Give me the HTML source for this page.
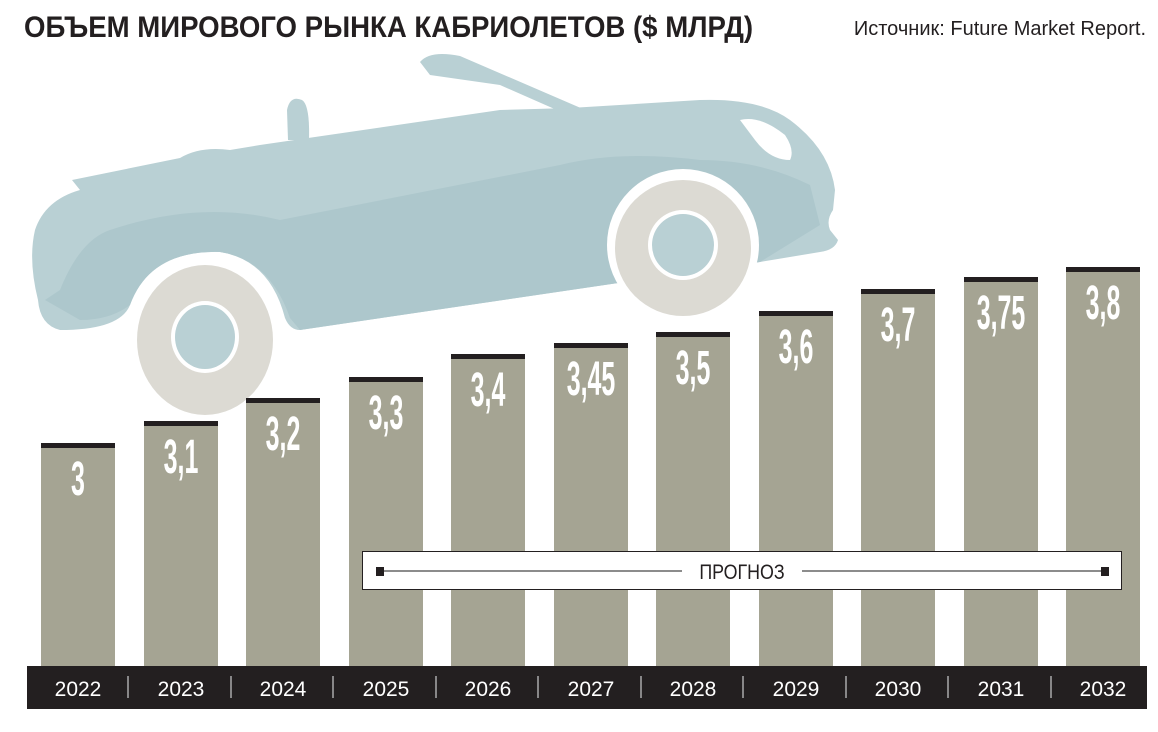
<!DOCTYPE html>
<html><head><meta charset="utf-8"><style>
html,body{margin:0;padding:0;background:#fff;}
body{width:1158px;height:727px;overflow:hidden;}
</style></head><body>
<svg width="1158" height="727" viewBox="0 0 1158 727" xmlns="http://www.w3.org/2000/svg" font-family="Liberation Sans, sans-serif">
<text transform="translate(24,37) scale(0.92,1)" font-size="30" font-weight="bold" fill="#231f20">ОБЪЕМ МИРОВОГО РЫНКА КАБРИОЛЕТОВ ($ МЛРД)</text>
<text x="1146" y="35" font-size="20" fill="#231f20" text-anchor="end">Источник: Future Market Report.</text>
<!-- car -->
<g>
<path d="M420,62 Q430,50 460,56 L590,112 L575,118 L500,85 L430,75 Z" fill="#b9d0d4"/>
<path d="M288,140 L287,110 Q290,95 302,100 Q310,105 309,140 Z" fill="#b9d0d4"/>
<path d="M72,180 L180,158 Q200,146 230,150 L260,145 L500,110 L570,108 L700,100 Q760,98 790,120 Q830,150 835,190 L833,210 Q826,220 830,230 L838,240 Q835,250 820,252 L760,262 L300,330 Q290,330 285,318 Q270,260 220,252 Q150,250 130,305 Q120,330 60,330 Q40,325 38,300 Q28,260 35,230 Q45,200 80,190 Z" fill="#b9d0d4"/>
<path d="M45,300 L60,290 Q80,240 110,230 Q200,200 280,220 L560,165 Q620,150 700,160 Q760,160 810,185 L820,225 L760,262 L300,330 L290,318 Q270,260 220,252 Q150,250 130,305 Q110,320 80,320 Z" fill="#adc7cc"/>
<path d="M740,120 Q760,115 785,135 Q795,150 790,160 Q770,160 755,140 Z" fill="#fff"/>
<ellipse cx="205" cy="335" rx="75" ry="82" fill="#fff"/>
<ellipse cx="205" cy="340" rx="68" ry="75" fill="#dcdad3"/>
<ellipse cx="205" cy="337" rx="34" ry="36" fill="#fff"/>
<ellipse cx="205" cy="337" rx="30" ry="32" fill="#b9d0d4"/>
<circle cx="683" cy="245" r="76" fill="#fff"/>
<circle cx="683" cy="248" r="68" fill="#dcdad3"/>
<circle cx="683" cy="245" r="35" fill="#fff"/>
<circle cx="683" cy="245" r="31" fill="#b9d0d4"/>
</g>
<!-- bars -->
<g fill="#a5a493">
<rect x="41" y="443" width="74" height="224"/>
<rect x="144" y="421" width="74" height="246"/>
<rect x="246" y="398" width="74" height="269"/>
<rect x="349" y="377" width="74" height="290"/>
<rect x="451" y="354" width="74" height="313"/>
<rect x="554" y="343" width="74" height="324"/>
<rect x="656" y="332" width="74" height="335"/>
<rect x="759" y="311" width="74" height="356"/>
<rect x="861" y="289" width="74" height="378"/>
<rect x="964" y="277" width="74" height="390"/>
<rect x="1066" y="267" width="74" height="400"/>
</g>
<g fill="#231f20">
<rect x="41" y="443" width="74" height="5"/>
<rect x="144" y="421" width="74" height="5"/>
<rect x="246" y="398" width="74" height="5"/>
<rect x="349" y="377" width="74" height="5"/>
<rect x="451" y="354" width="74" height="5"/>
<rect x="554" y="343" width="74" height="5"/>
<rect x="656" y="332" width="74" height="5"/>
<rect x="759" y="311" width="74" height="5"/>
<rect x="861" y="289" width="74" height="5"/>
<rect x="964" y="277" width="74" height="5"/>
<rect x="1066" y="267" width="74" height="5"/>
</g>
<g fill="#fff" font-size="48" font-weight="bold" text-anchor="middle">
<text transform="translate(78,495) scale(0.52,1)">3</text>
<text transform="translate(181,473) scale(0.52,1)">3,1</text>
<text transform="translate(283,450) scale(0.52,1)">3,2</text>
<text transform="translate(386,429) scale(0.52,1)">3,3</text>
<text transform="translate(488,406) scale(0.52,1)">3,4</text>
<text transform="translate(591,395) scale(0.52,1)">3,45</text>
<text transform="translate(693,384) scale(0.52,1)">3,5</text>
<text transform="translate(796,363) scale(0.52,1)">3,6</text>
<text transform="translate(898,341) scale(0.52,1)">3,7</text>
<text transform="translate(1001,329) scale(0.52,1)">3,75</text>
<text transform="translate(1103,319) scale(0.52,1)">3,8</text>
</g>
<!-- forecast -->
<rect x="362.5" y="551.5" width="759" height="38" fill="#fff" stroke="#231f20" stroke-width="1"/>
<line x1="380" y1="571" x2="682" y2="571" stroke="#666" stroke-width="1.5"/>
<line x1="802" y1="571" x2="1106" y2="571" stroke="#666" stroke-width="1.5"/>
<rect x="376" y="567" width="8" height="9" fill="#231f20"/>
<rect x="1101" y="567" width="8" height="9" fill="#231f20"/>
<text transform="translate(742,579) scale(0.85,1)" font-size="21" fill="#231f20" text-anchor="middle">ПРОГНОЗ</text>
<!-- axis band -->
<rect x="27" y="666" width="1120" height="43" fill="#231f20"/>
<g stroke="#aaa" stroke-width="1.5">
<line x1="128" y1="676" x2="128" y2="698"/><line x1="231" y1="676" x2="231" y2="698"/>
<line x1="333" y1="676" x2="333" y2="698"/><line x1="436" y1="676" x2="436" y2="698"/>
<line x1="538" y1="676" x2="538" y2="698"/><line x1="641" y1="676" x2="641" y2="698"/>
<line x1="743" y1="676" x2="743" y2="698"/><line x1="846" y1="676" x2="846" y2="698"/>
<line x1="948" y1="676" x2="948" y2="698"/><line x1="1051" y1="676" x2="1051" y2="698"/>
</g>
<g fill="#fff" font-size="21" text-anchor="middle">
<text x="78" y="696">2022</text><text x="181" y="696">2023</text><text x="283" y="696">2024</text>
<text x="386" y="696">2025</text><text x="488" y="696">2026</text><text x="591" y="696">2027</text>
<text x="693" y="696">2028</text><text x="796" y="696">2029</text><text x="898" y="696">2030</text>
<text x="1001" y="696">2031</text><text x="1103" y="696">2032</text>
</g>
</svg>
</body></html>
